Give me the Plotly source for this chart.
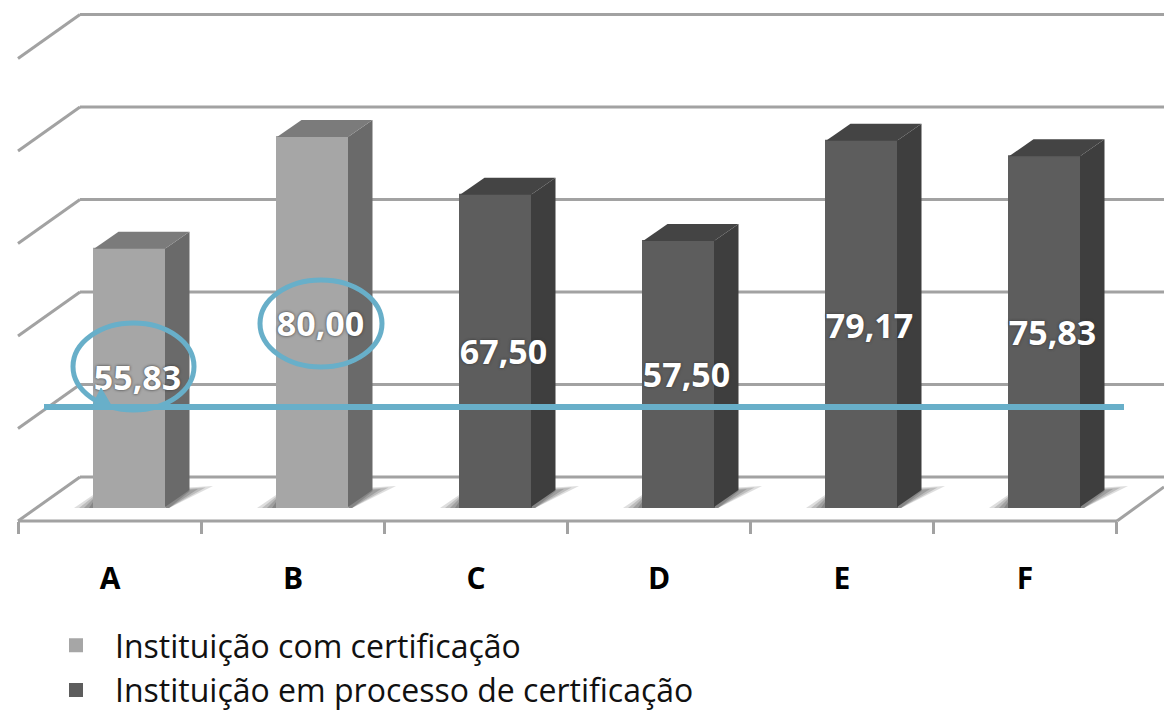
import plotly.graph_objects as go

# Values per institution and the group each one belongs to
categories = ["A", "B", "C", "D", "E", "F"]
values = [55.83, 80.00, 67.50, 57.50, 79.17, 75.83]
certified = [True, True, False, False, False, False]
series_names = ["Instituição com certificação", "Instituição em processo de certificação"]
gridline_steps = [0, 20, 40, 60, 80, 100]

W, H = 1164, 712
PX_X = 1 / 183      # one pixel in x-axis units
PX_Y = 1 / 4.625    # one pixel in y-axis units
X_RANGE = [-110 * PX_X, (W - 110) * PX_X]
Y_RANGE = [-(H - 507) * PX_Y, 507 * PX_Y]

BAR_SHIFT = 19.5 * PX_X      # bars stand deeper on the floor than the axis line
BAR_W = 71 * PX_X
DEPTH_X = 24.5 * PX_X        # oblique projection of the bar depth
DEPTH_Y = 17 * PX_Y

FRONT = {True: "#a6a6a6", False: "#5d5d5d"}
SIDE = {True: "#6a6a6a", False: "#3e3e3e"}
TOP = {True: "#7b7b7b", False: "#444444"}
GRID = "#a2a2a2"
ACCENT = "#68afc9"


def paper(x, y):
    return x / W, 1 - y / H


fig = go.Figure()

# Side and top faces of each column
for i, v in enumerate(values):
    left = i + BAR_SHIFT - BAR_W / 2
    right = i + BAR_SHIFT + BAR_W / 2
    group = certified[i]
    fig.add_trace(go.Scatter(
        x=[right, right + DEPTH_X, right + DEPTH_X, right],
        y=[0, DEPTH_Y, v + DEPTH_Y, v],
        mode="lines", fill="toself", fillcolor=SIDE[group],
        line=dict(width=0), hoverinfo="skip", showlegend=False,
    ))
    fig.add_trace(go.Scatter(
        x=[left, left + DEPTH_X, right + DEPTH_X, right],
        y=[v, v + DEPTH_Y, v + DEPTH_Y, v],
        mode="lines", fill="toself", fillcolor=TOP[group],
        line=dict(width=0), hoverinfo="skip", showlegend=False,
    ))

# Front faces: one bar trace per legend entry
for name, group in zip(series_names, [True, False]):
    idx = [i for i, c in enumerate(certified) if c == group]
    fig.add_trace(go.Bar(
        x=[i + BAR_SHIFT for i in idx],
        y=[values[i] for i in idx],
        width=BAR_W,
        name=name,
        marker=dict(color=FRONT[group], line=dict(color=FRONT[group], width=2)),
        hoverinfo="skip",
    ))

# Value labels, centred on the column including its depth
fig.add_trace(go.Scatter(
    x=[i + BAR_SHIFT + 8 * PX_X for i in range(len(values))],
    y=[v * 0.49 - 1.5 * PX_Y for v in values],
    text=[f"{v:.2f}".replace(".", ",") for v in values],
    mode="text",
    textposition="middle center",
    textfont=dict(family="Open Sans", size=34, color="white", weight="bold",
                  shadow="0px 0px 3px #333333"),
    hoverinfo="skip", showlegend=False, cliponaxis=False,
))

# Back wall, side wall and floor edges
shapes = []
grid_line = dict(color=GRID, width=3)
for step in gridline_steps:
    back_y = step + 30 * PX_Y
    front_y = step - 14 * PX_Y
    back_x = X_RANGE[0] + 80 * PX_X
    front_x = X_RANGE[0] + 18 * PX_X
    shapes.append(dict(type="line", xref="x", yref="y", x0=back_x, x1=X_RANGE[1],
                       y0=back_y, y1=back_y, line=grid_line, layer="below"))
    shapes.append(dict(type="line", xref="x", yref="y", x0=front_x, x1=back_x,
                       y0=front_y, y1=back_y, line=grid_line, layer="below"))
floor_y = -14 * PX_Y
shapes.append(dict(type="line", xref="x", yref="y", x0=X_RANGE[0] + 18 * PX_X,
                   x1=X_RANGE[0] + 1117 * PX_X, y0=floor_y, y1=floor_y,
                   line=grid_line, layer="below"))
shapes.append(dict(type="line", xref="x", yref="y", x0=X_RANGE[0] + 1117 * PX_X, x1=X_RANGE[1],
                   y0=floor_y, y1=floor_y + 34 * PX_Y, line=grid_line, layer="below"))

# Floor shadows, layered so they fade towards the edges
for i, v in enumerate(values):
    left = i + BAR_SHIFT - BAR_W / 2
    right = i + BAR_SHIFT + BAR_W / 2
    for inset, alpha in [(0, 0.20), (5, 0.25), (10, 0.30), (15, 0.35)]:
        d = inset * PX_X
        corners = [
            (left - 20 * PX_X + d, -1 * PX_Y),
            (left + 2 * PX_X, 14 * PX_Y - inset * 0.3 * PX_Y),
            (right + 48 * PX_X - d * 1.5, 21 * PX_Y - inset * 0.3 * PX_Y),
            (right + 4 * PX_X, -1 * PX_Y),
        ]
        shapes.append(dict(type="path", xref="x", yref="y", layer="below",
                           path="M " + " L ".join(f"{a:.5f},{b:.5f}" for a, b in corners) + " Z",
                           fillcolor=f"rgba(90,90,90,{alpha})", line=dict(width=0)))

# Highlight marks drawn over the chart
for (x0, y0, x1, y1) in [(73, 323, 194, 410), (260, 280, 382, 367)]:
    px0, py0 = paper(x0, y0)
    px1, py1 = paper(x1, y1)
    shapes.append(dict(type="circle", xref="paper", yref="paper", x0=px0, y0=py0, x1=px1, y1=py1,
                       line=dict(color=ACCENT, width=5), layer="above"))
lx0, ly = paper(44, 407)
lx1, _ = paper(1124, 407)
shapes.append(dict(type="line", xref="paper", yref="paper", x0=lx0, x1=lx1, y0=ly, y1=ly,
                   line=dict(color=ACCENT, width=6), layer="above"))
tri = [paper(92, 407), paper(101, 388), paper(112, 407)]
shapes.append(dict(type="path", xref="paper", yref="paper",
                   path="M " + " L ".join(f"{a:.5f},{b:.5f}" for a, b in tri) + " Z",
                   fillcolor=ACCENT, line=dict(color=ACCENT, width=1), layer="above"))

fig.update_layout(
    width=W, height=H,
    margin=dict(l=0, r=0, t=0, b=0, autoexpand=False),
    paper_bgcolor="white", plot_bgcolor="rgba(0,0,0,0)",
    barmode="overlay",
    shapes=shapes,
    hovermode=False,
    legend=dict(
        x=37 / W, y=1 - 618 / H, xanchor="left", yanchor="top",
        font=dict(family="Open Sans", size=32, color="#111111"),
        itemwidth=68, bgcolor="rgba(0,0,0,0)",
        traceorder="normal",
    ),
    xaxis=dict(
        range=X_RANGE, anchor="free", position=(H - 521) / H,
        tickmode="array", tickvals=list(range(len(categories))), ticktext=categories,
        ticks="outside", ticklen=0, ticklabelstandoff=31,
        tickfont=dict(family="Open Sans", size=30, color="black", weight="bold"),
        showgrid=False, zeroline=False, showline=False,
        minor=dict(tickmode="array", tickvals=[i - 0.5 for i in range(len(categories) + 1)],
                   ticks="outside", ticklen=12, tickwidth=3, tickcolor=GRID, showgrid=False),
    ),
    yaxis=dict(range=Y_RANGE, visible=False, showgrid=False, zeroline=False),
)

fig.write_html("out.html", config=dict(displayModeBar=False))
